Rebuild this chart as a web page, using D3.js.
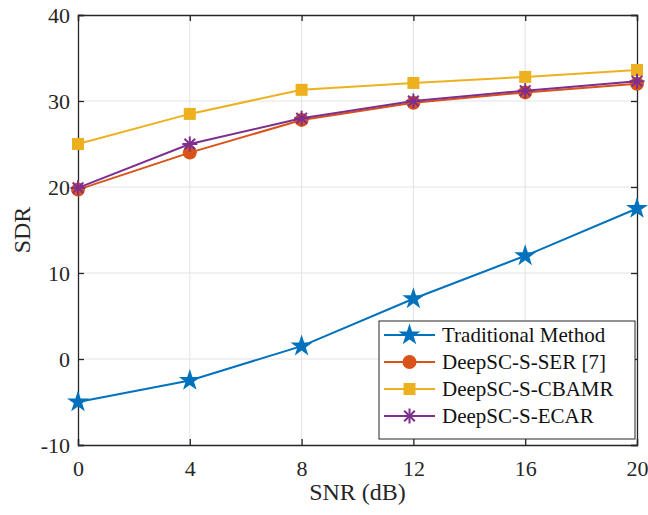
<!DOCTYPE html>
<html>
<head>
<meta charset="utf-8">
<script src="https://cdn.jsdelivr.net/npm/d3@7"></script>
<style>
  body { margin: 0; background: #fff; }
  svg { display: block; }
  svg text { font-family: "Liberation Serif", "Times New Roman", serif; }
</style>
</head>
<body>
<svg id="chart" width="648" height="515"></svg>
<script>
// data
const snr = [0, 4, 8, 12, 16, 20];
const traditional = [-5, -2.5, 1.5, 7, 12, 17.5];
const ser = [19.7, 24, 27.8, 29.8, 31, 32];
const cbamr = [25, 28.5, 31.3, 32.1, 32.8, 33.6];
const ecar = [19.9, 25, 28, 30, 31.2, 32.3];
const seriesNames = ["Traditional Method", "DeepSC-S-SER [7]", "DeepSC-S-CBAMR", "DeepSC-S-ECAR"];
const xTicks = [0, 4, 8, 12, 16, 20];
const yTicks = [-10, 0, 10, 20, 30, 40];

const series = [
  { name: seriesNames[0], values: traditional, color: "#0072BD", marker: "star" },
  { name: seriesNames[1], values: ser, color: "#D95319", marker: "circle" },
  { name: seriesNames[2], values: cbamr, color: "#EDB120", marker: "square" },
  { name: seriesNames[3], values: ecar, color: "#7E2F8E", marker: "asterisk" },
];

const svg = d3.select("svg#chart");
const margin = { left: 78, right: 11, top: 15, bottom: 70 };
const width = svg.attr("width") - margin.left - margin.right;
const height = svg.attr("height") - margin.top - margin.bottom;

const x = d3.scaleLinear().domain([0, 20]).range([0, width]);
const y = d3.scaleLinear().domain([-10, 40]).range([height, 0]);

const g = svg.append("g").attr("transform", `translate(${margin.left}, ${margin.top})`);

// grid
g.append("g").selectAll("line").data(xTicks.slice(1, -1)).join("line")
  .attr("x1", d => x(d)).attr("x2", d => x(d))
  .attr("y1", 0).attr("y2", height)
  .attr("stroke", "#e3e3e3").attr("stroke-width", 1);
g.append("g").selectAll("line").data(yTicks.slice(1, -1)).join("line")
  .attr("y1", d => y(d)).attr("y2", d => y(d))
  .attr("x1", 0).attr("x2", width)
  .attr("stroke", "#e3e3e3").attr("stroke-width", 1);

// axes, ticks pointing inward
const fmt = d => String(d);
const xAxis = g.append("g").attr("transform", `translate(0, ${height})`)
  .call(d3.axisBottom(x).tickValues(xTicks).tickSize(-6).tickPadding(10).tickFormat(fmt));
const yAxis = g.append("g")
  .call(d3.axisLeft(y).tickValues(yTicks).tickSize(-6).tickPadding(8).tickFormat(fmt));
g.append("g").attr("transform", `translate(${width}, 0)`)
  .call(d3.axisRight(y).tickValues(yTicks).tickSize(-6).tickFormat(""));
g.append("g")
  .call(d3.axisTop(x).tickValues(xTicks).tickSize(-6).tickFormat(""));

g.selectAll(".domain").attr("stroke", "#262626").attr("stroke-width", 1.3);
g.selectAll(".tick line").attr("stroke", "#262626").attr("stroke-width", 1.3);
g.selectAll(".tick text").attr("fill", "#262626").attr("font-size", 22);
xAxis.selectAll(".tick text").attr("dy", "0.95em");

// axis labels
svg.append("text")
  .attr("x", margin.left + width / 2).attr("y", 500)
  .attr("text-anchor", "middle").attr("fill", "#262626")
  .attr("font-size", 24).text("SNR (dB)");
svg.append("text")
  .attr("transform", `translate(30, ${margin.top + height / 2}) rotate(-90)`)
  .attr("text-anchor", "middle").attr("fill", "#262626")
  .attr("font-size", 24).text("SDR");

function drawMarker(sel, type, color) {
  if (type === "star") {
    sel.append("path").attr("d", d3.symbol(d3.symbolStar, 150)()).attr("fill", color);
  } else if (type === "circle") {
    sel.append("circle").attr("r", 7).attr("fill", color);
  } else if (type === "square") {
    sel.append("rect").attr("x", -6).attr("y", -6).attr("width", 12).attr("height", 12).attr("fill", color);
  } else if (type === "asterisk") {
    const r = 7.5;
    [0, 45, 90, 135].forEach(a => {
      const rad = a * Math.PI / 180;
      sel.append("line")
        .attr("x1", -r * Math.cos(rad)).attr("y1", -r * Math.sin(rad))
        .attr("x2", r * Math.cos(rad)).attr("y2", r * Math.sin(rad))
        .attr("stroke", color).attr("stroke-width", 2);
    });
  }
}

const line = d3.line().x(d => x(d[0])).y(d => y(d[1]));

series.forEach(s => {
  const pts = snr.map((v, i) => [v, s.values[i]]);
  g.append("path").datum(pts)
    .attr("d", line).attr("fill", "none")
    .attr("stroke", s.color).attr("stroke-width", 2);
  pts.forEach(p => {
    const m = g.append("g").attr("transform", `translate(${x(p[0])}, ${y(p[1])})`);
    drawMarker(m, s.marker, s.color);
  });
});

// legend
const legend = svg.append("g").attr("transform", "translate(379, 321)");
legend.append("rect").attr("width", 256).attr("height", 118)
  .attr("fill", "#fff").attr("stroke", "#262626").attr("stroke-width", 1);
series.forEach((s, i) => {
  const row = legend.append("g").attr("transform", `translate(0, ${14 + i * 27})`);
  row.append("line").attr("x1", 5).attr("x2", 56).attr("stroke", s.color).attr("stroke-width", 2);
  const m = row.append("g").attr("transform", "translate(30.5, 0)");
  drawMarker(m, s.marker, s.color);
  row.append("text").attr("x", 63).attr("dy", "0.35em")
    .attr("fill", "#111").attr("font-size", 21).text(s.name);
});
</script>
</body>
</html>
